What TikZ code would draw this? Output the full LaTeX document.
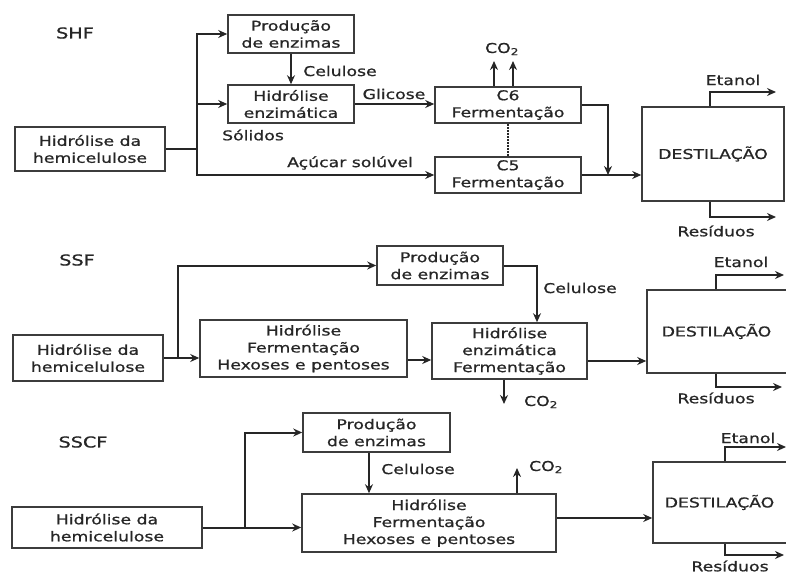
\documentclass[tikz,border=0pt]{standalone}
\usepackage{fontspec}
\setmainfont{DejaVu Sans}[FakeStretch=1.28]
\newfontfamily\boldish{DejaVu Sans}[FakeStretch=1.28,FakeBold=0.9]
\usetikzlibrary{arrows.meta}
\definecolor{ink}{HTML}{262626}
\definecolor{edge}{HTML}{3C3C3C}
\tikzset{
  box/.style={draw=edge, line width=1.6pt, inner sep=0pt, align=center, text=ink,
    font=\boldish\fontsize{13.5}{17}\selectfont},
  lbl/.style={text=ink, inner sep=0pt, font=\boldish\fontsize{13.5}{17}\selectfont},
  title/.style={text=ink, inner sep=0pt, font=\boldish\fontsize{15}{18}\selectfont},
  conn/.style={draw=ink, line width=2pt},
  arr/.style={conn, -{Stealth[length=9pt,width=8pt]}},
}
\begin{document}
\begin{tikzpicture}[x=1pt,y=-1pt]
\useasboundingbox (0,0) rectangle (786,575);
\clip (0,0) rectangle (786,575);
% ---------------- SHF ----------------
\node[title] (tshf) at (75,33) {SHF};
\node[box, minimum width=126pt, minimum height=38pt] (pe1) at (291,34) {Produção\\de enzimas};
\node[box, minimum width=126pt, minimum height=38pt] (he1) at (291,104) {Hidrólise\\enzimática};
\node[box, minimum width=150pt, minimum height=44pt] (hc1) at (90,149) {Hidrólise da\\hemicelulose};
\node[box, minimum width=146pt, minimum height=36pt] (c6) at (508,105) {C6\\Fermentação};
\node[box, minimum width=146pt, minimum height=36pt] (c5) at (508,175) {C5\\Fermentação};
\node[box, minimum width=142pt, minimum height=94pt] (d1) at (713,154) {DESTILAÇÃO};
\node[lbl] (lcel1) at (340,71) {Celulose};
\node[lbl] (lgli) at (394,94) {Glicose};
\node[lbl] (lsol) at (253,135) {Sólidos};
\node[lbl] (lacu) at (350,163) {Açúcar solúvel};
\node[lbl] (lco1) at (502,49) {CO\textsubscript{2}};
\node[lbl] (let1) at (733,80) {Etanol};
\node[lbl] (lre1) at (716,231) {Resíduos};
\coordinate (j1) at (197,149);
\draw[conn] (hc1.east) -- (j1);
\draw[arr] (j1) |- (pe1.west);
\draw[arr] (j1 |- he1.west) -- (he1.west);
\draw[arr] (j1) |- (c5.west);
\draw[arr] (pe1.south) -- (he1.north);
\draw[arr] (he1.east) -- (he1.east -| c6.west);
\draw[conn, densely dotted] (c6.south) -- (c5.north);
\coordinate (co1a) at (494,61);
\coordinate (co1b) at (513,61);
\draw[arr] (c6.north -| co1a) -- (co1a);
\draw[arr] (c6.north -| co1b) -- (co1b);
\coordinate (m1) at (608,175);
\draw[arr] (c6.east) -| (m1);
\draw[arr] (c5.east) -- (c5.east -| d1.west);
\coordinate (e1) at (776,92);
\coordinate (r1) at (776,217);
\draw[arr] ([xshift=-3pt]d1.north) |- (e1);
\draw[arr] ([xshift=-3pt]d1.south) |- (r1);
% ---------------- SSF ----------------
\node[title] (tssf) at (77,260) {SSF};
\node[box, minimum width=150pt, minimum height=46pt] (hc2) at (88,358) {Hidrólise da\\hemicelulose};
\node[box, minimum width=207pt, minimum height=57pt] (hf2) at (303.5,348.5) {Hidrólise\\Fermentação\\Hexoses e pentoses};
\node[box, minimum width=126pt, minimum height=39pt] (pe2) at (440,265.5) {Produção\\de enzimas};
\node[box, minimum width=155pt, minimum height=56pt] (he2) at (509.5,351) {Hidrólise\\enzimática\\Fermentação};
\node[box, minimum width=153pt, minimum height=83pt] (d2) at (723.5,331.5) {\hspace*{-14pt}DESTILAÇÃO};
\node[lbl] (lcel2) at (580,288) {Celulose};
\node[lbl] (lco2) at (541,402) {CO\textsubscript{2}};
\node[lbl] (let2) at (741,262) {Etanol};
\node[lbl] (lre2) at (716,398) {Resíduos};
\coordinate (j2) at (178,358);
\draw[arr] (hc2.east) -- (hc2.east -| hf2.west);
\draw[arr] (j2) |- (pe2.west);
\draw[arr] (pe2.east) -| ([xshift=27.5pt]he2.north);
\coordinate (s2a) at ([yshift=-11.5pt]hf2.east);
\draw[arr] (s2a) -- (s2a -| he2.west);
\coordinate (co2) at (504,404);
\draw[arr] (he2.south -| co2) -- (co2);
\coordinate (s2) at ([yshift=-10pt]he2.east);
\draw[arr] (s2) -- (s2 -| d2.west);
\coordinate (e2) at (784,275);
\coordinate (r2) at (782,387);
\draw[arr] ([xshift=-7.5pt]d2.north) |- (e2);
\draw[arr] ([xshift=-7.5pt]d2.south) |- (r2);
% ---------------- SSCF ----------------
\node[title] (tsscf) at (83,442) {SSCF};
\node[box, minimum width=190pt, minimum height=41pt] (hc3) at (107,527.5) {Hidrólise da\\hemicelulose};
\node[box, minimum width=147pt, minimum height=39pt] (pe3) at (376.5,432.5) {Produção\\de enzimas};
\node[box, minimum width=254pt, minimum height=58pt] (hf3) at (429,523) {Hidrólise\\Fermentação\\Hexoses e pentoses};
\node[box, minimum width=147pt, minimum height=81pt] (d3) at (726.5,502.5) {\hspace*{-14pt}DESTILAÇÃO};
\node[lbl] (lcel3) at (418,469) {Celulose};
\node[lbl] (lco3) at (546,467) {CO\textsubscript{2}};
\node[lbl] (let3) at (748,438) {Etanol};
\node[lbl] (lre3) at (730,566) {Resíduos};
\coordinate (j3) at (245,527.5);
\draw[arr] (hc3.east) -- (hc3.east -| hf3.west);
\draw[arr] (j3) |- (pe3.west);
\coordinate (s3a) at ([xshift=-7.5pt]pe3.south);
\draw[arr] (s3a) -- (s3a |- hf3.north);
\coordinate (co3) at (517,468);
\draw[arr] (hf3.north -| co3) -- (co3);
\coordinate (s3) at ([yshift=5pt]hf3.east);
\draw[arr] (s3) -- (s3 -| d3.west);
\coordinate (e3) at (786,447);
\coordinate (r3) at (784,555);
\draw[arr] ([xshift=-1.5pt]d3.north) |- (e3);
\draw[arr] ([xshift=-1.5pt]d3.south) |- (r3);
\end{tikzpicture}
\end{document}
